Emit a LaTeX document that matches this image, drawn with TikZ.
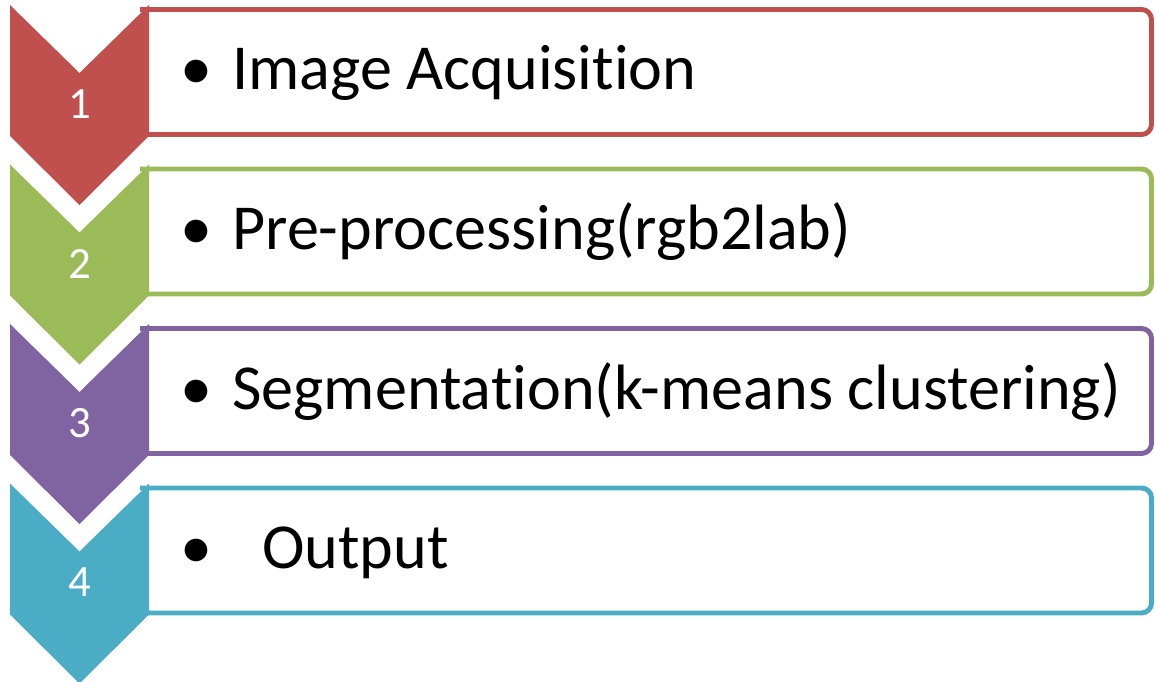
\documentclass[tikz,border=0pt]{standalone}
\usepackage{fontspec}
\setmainfont{Carlito}[Ligatures=NoCommon]
\definecolor{cred}{HTML}{C0504D}
\definecolor{cgreen}{HTML}{9BBB59}
\definecolor{cpurple}{HTML}{8064A2}
\definecolor{cteal}{HTML}{4BACC6}
\tikzset{
  chev/.style={fill=#1, draw=none},
  itembox/.style={draw=#1, line width=2.8pt, fill=white, rounded corners=0.2cm},
  numlbl/.style={text=white, font=\fontsize{25.5}{30}\selectfont, inner sep=0pt},
  itemtxt/.style={font=\fontsize{36.5}{44}\selectfont, inner sep=0pt, anchor=base west},
  bul/.style={font=\fontsize{36.5}{44}\selectfont, inner sep=0pt, anchor=base},
}
\begin{document}
\begin{tikzpicture}[x=0.02cm, y=-0.02cm]
\useasboundingbox (0,0) rectangle (1155,682);
\foreach \T/\c in {5/cred, 164.5/cgreen, 324/cpurple, 483.5/cteal}{
  \draw[itembox=\c] (140,\T+4.5) -- (1151.5,\T+4.5) -- (1151.5,\T+129.5) -- (140,\T+129.5);
  \fill[chev=\c] (10,\T) -- (79.5,\T+68) -- (149,\T) -- (149,\T+131) -- (79.5,\T+200) -- (10,\T+131) -- cycle;
}
\node[numlbl] (n1) at (79.5,104) {1};
\node[numlbl] (n2) at (79.5,263.5) {2};
\node[numlbl] (n3) at (79.5,423) {3};
\node[numlbl] (n4) at (79.5,582.5) {4};
\node[bul] (b1) at (196,90) {•};
\node[bul] (b2) at (196,249.5) {•};
\node[bul] (b3) at (196,409) {•};
\node[bul] (b4) at (196,568.5) {•};
\node[itemtxt] (t1) at (232,90) {Image Acquisition};
\node[itemtxt] (t2) at (232,249.5) {Pre-processing(rgb2lab)};
\node[itemtxt] (t3) at (232,409) {Segmentation(k-means clustering)};
\node[itemtxt] (t4) at (262,568.5) {Output};
\end{tikzpicture}
\end{document}
